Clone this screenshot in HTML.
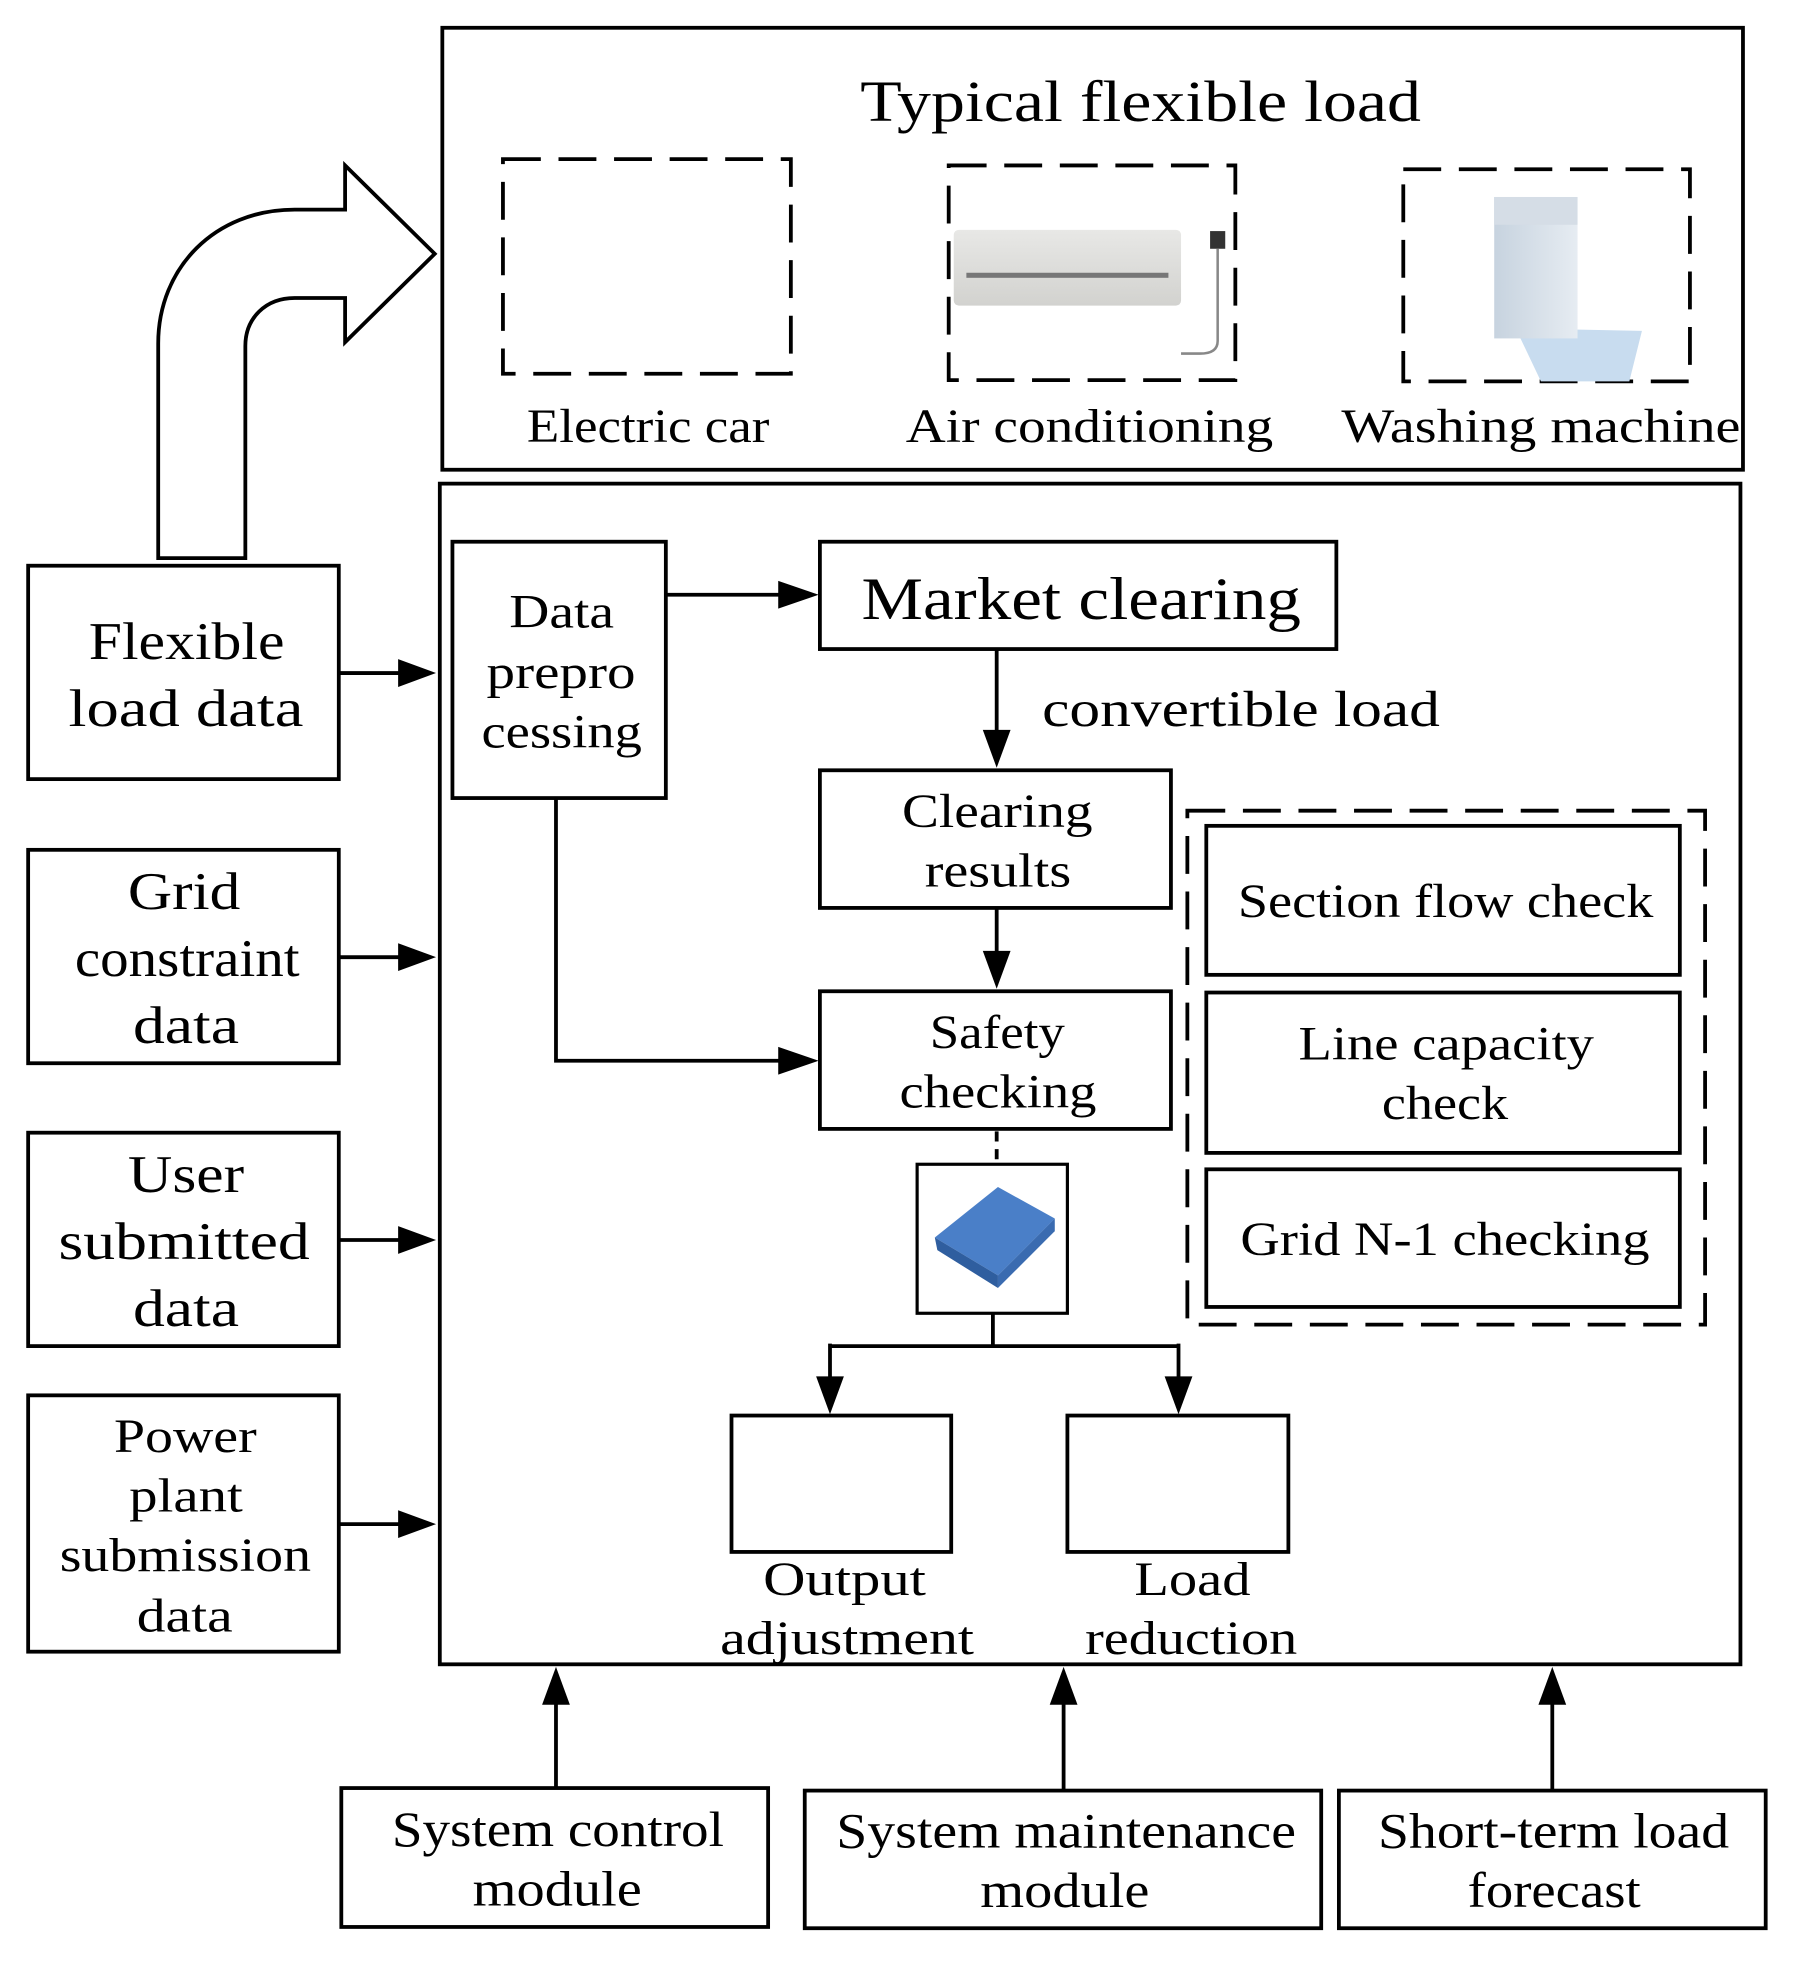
<!DOCTYPE html>
<html><head><meta charset="utf-8"><style>
html,body{margin:0;padding:0;background:#fff;}
svg{display:block;}
text{font-family:"Liberation Serif",serif;fill:#000;}
</style></head><body>
<svg width="1809" height="1980" viewBox="0 0 1432 1568" xmlns="http://www.w3.org/2000/svg">
<defs>
<linearGradient id="acg" x1="0" y1="0" x2="0" y2="1"><stop offset="0" stop-color="#e8e8e6"/><stop offset="1" stop-color="#d2d2cf"/></linearGradient>
<linearGradient id="wmg" x1="0" y1="0" x2="1" y2="0"><stop offset="0" stop-color="#c7d3df"/><stop offset="1" stop-color="#e6ecf2"/></linearGradient>
</defs>
<g fill="none" stroke="#000" stroke-width="3">
<rect x="350" y="22" width="1030" height="350"/>
<path d="M125,442 V272 C125,212 170,166 233,166 H273 V131 L344,201 L273,271 V236 H233 C210,236 194,252 194,274 V442 Z" fill="#fff"/>
<rect x="348" y="383" width="1030" height="935"/>
<rect x="22" y="448" width="246" height="169"/>
<rect x="22" y="673" width="246" height="169"/>
<rect x="22" y="897" width="246" height="169"/>
<rect x="22" y="1105" width="246" height="203"/>
<rect x="358" y="429" width="169" height="203"/>
<rect x="649" y="429" width="409" height="85"/>
<rect x="649" y="610" width="278" height="109"/>
<rect x="649" y="785" width="278" height="109"/>
<rect x="726" y="922" width="119" height="118" stroke-width="2.5"/>
<rect x="579" y="1121" width="174" height="108"/>
<rect x="845" y="1121" width="175" height="108"/>
<rect x="955" y="654" width="375" height="118"/>
<rect x="955" y="786" width="375" height="127"/>
<rect x="955" y="926" width="375" height="109"/>
<rect x="270" y="1416" width="338" height="110"/>
<rect x="637" y="1418" width="409" height="109"/>
<rect x="1060" y="1418" width="338" height="109"/>
<g stroke-dasharray="30,14">
<rect x="398" y="126" width="228" height="170"/>
<rect x="751" y="131" width="227" height="170"/>
<rect x="1111" y="134" width="227" height="168"/>
<rect x="940" y="642" width="410" height="407"/>
<path d="M789,896 V920" stroke-dasharray="8,6"/>
</g>
<path d="M268,533 H322 M268,758 H322 M268,982 H322 M268,1207 H322"/>
<path d="M527,471 H624"/>
<path d="M789,514 V585 M789,719 V760"/>
<path d="M440,632 L440,840 H624"/>
<path d="M786,1040 V1066 M657,1066 H933 M657,1064 V1097 M933,1064 V1097"/>
<path d="M440,1416 V1345 M842,1418 V1345 M1229,1418 V1345"/>
</g>
<g fill="#000">
<polygon points="345,533 315,522 315,544"/>
<polygon points="345,758 315,747 315,769"/>
<polygon points="345,982 315,971 315,993"/>
<polygon points="345,1207 315,1196 315,1218"/>
<polygon points="648,471 616,460 616,482"/>
<polygon points="648,840 616,829 616,851"/>
<polygon points="789,608 778,578 800,578"/>
<polygon points="789,783 778,753 800,753"/>
<polygon points="657,1120 646,1090 668,1090"/>
<polygon points="933,1120 922,1090 944,1090"/>
<polygon points="440,1320 429,1350 451,1350"/>
<polygon points="842,1320 831,1350 853,1350"/>
<polygon points="1229,1320 1218,1350 1240,1350"/>
</g>
<rect x="755" y="182" width="180" height="60" rx="4" fill="url(#acg)"/>
<rect x="765" y="216" width="160" height="4" fill="#777"/>
<rect x="958" y="183" width="12" height="14" fill="#333"/>
<path d="M964,197 V270 Q964,280 950,280 H935" fill="none" stroke="#888" stroke-width="2"/>
<polygon points="1200,260 1300,262 1290,302 1220,302" fill="#c8dcef"/>
<rect x="1183" y="156" width="66" height="112" fill="url(#wmg)"/>
<rect x="1183" y="156" width="66" height="22" fill="#d5dde6"/>
<polygon points="740,980 790,940 835,965 790,1010" fill="#4a7fc8"/>
<polygon points="740,980 790,1010 790,1020 742,990" fill="#2f5e9f"/>
<polygon points="790,1010 835,965 835,975 790,1020" fill="#3a6bb0"/>
<g lengthAdjust="spacingAndGlyphs">
<text x="681" y="96" font-size="46" textLength="444" lengthAdjust="spacingAndGlyphs">Typical flexible load</text>
<g font-size="38">
<text x="417" y="350" textLength="192" lengthAdjust="spacingAndGlyphs">Electric car</text>
<text x="717" y="350" textLength="291" lengthAdjust="spacingAndGlyphs">Air conditioning</text>
<text x="1062" y="350" textLength="316" lengthAdjust="spacingAndGlyphs">Washing machine</text>
<text x="403" y="497" textLength="83" lengthAdjust="spacingAndGlyphs">Data</text>
<text x="385" y="545" textLength="118" lengthAdjust="spacingAndGlyphs">prepro</text>
<text x="381" y="592" textLength="127" lengthAdjust="spacingAndGlyphs">cessing</text>
<text x="714" y="655" textLength="151" lengthAdjust="spacingAndGlyphs">Clearing</text>
<text x="732" y="702" textLength="116" lengthAdjust="spacingAndGlyphs">results</text>
<text x="736" y="830" textLength="107" lengthAdjust="spacingAndGlyphs">Safety</text>
<text x="712" y="877" textLength="156" lengthAdjust="spacingAndGlyphs">checking</text>
<text x="604" y="1263" textLength="129" lengthAdjust="spacingAndGlyphs">Output</text>
<text x="570" y="1310" textLength="201" lengthAdjust="spacingAndGlyphs">adjustment</text>
<text x="898" y="1263" textLength="92" lengthAdjust="spacingAndGlyphs">Load</text>
<text x="859" y="1310" textLength="168" lengthAdjust="spacingAndGlyphs">reduction</text>
<text x="980" y="726" textLength="329" lengthAdjust="spacingAndGlyphs">Section flow check</text>
<text x="1028" y="839" textLength="234" lengthAdjust="spacingAndGlyphs">Line capacity</text>
<text x="1094" y="886" textLength="100" lengthAdjust="spacingAndGlyphs">check</text>
<text x="982" y="994" textLength="324" lengthAdjust="spacingAndGlyphs">Grid N-1 checking</text>
<text x="90" y="1150" textLength="113" lengthAdjust="spacingAndGlyphs">Power</text>
<text x="102" y="1197" textLength="90" lengthAdjust="spacingAndGlyphs">plant</text>
<text x="47" y="1244" textLength="199" lengthAdjust="spacingAndGlyphs">submission</text>
<text x="108" y="1292" textLength="76" lengthAdjust="spacingAndGlyphs">data</text>
</g>
<g font-size="42">
<text x="70" y="522" textLength="155" lengthAdjust="spacingAndGlyphs">Flexible</text>
<text x="54" y="575" textLength="186" lengthAdjust="spacingAndGlyphs">load data</text>
<text x="101" y="720" textLength="89" lengthAdjust="spacingAndGlyphs">Grid</text>
<text x="59" y="773" textLength="178" lengthAdjust="spacingAndGlyphs">constraint</text>
<text x="105" y="826" textLength="84" lengthAdjust="spacingAndGlyphs">data</text>
<text x="101" y="944" textLength="92" lengthAdjust="spacingAndGlyphs">User</text>
<text x="46" y="997" textLength="199" lengthAdjust="spacingAndGlyphs">submitted</text>
<text x="105" y="1050" textLength="84" lengthAdjust="spacingAndGlyphs">data</text>
</g>
<text x="682" y="490" font-size="48" textLength="348" lengthAdjust="spacingAndGlyphs">Market clearing</text>
<text x="825" y="575" font-size="40" textLength="315" lengthAdjust="spacingAndGlyphs">convertible load</text>
<g font-size="39">
<text x="310" y="1462" textLength="263" lengthAdjust="spacingAndGlyphs">System control</text>
<text x="374" y="1509" textLength="134" lengthAdjust="spacingAndGlyphs">module</text>
<text x="662" y="1463" textLength="364" lengthAdjust="spacingAndGlyphs">System maintenance</text>
<text x="776" y="1510" textLength="134" lengthAdjust="spacingAndGlyphs">module</text>
<text x="1091" y="1463" textLength="278" lengthAdjust="spacingAndGlyphs">Short-term load</text>
<text x="1162" y="1510" textLength="137" lengthAdjust="spacingAndGlyphs">forecast</text>
</g>
</g>
</svg>
</body></html>
